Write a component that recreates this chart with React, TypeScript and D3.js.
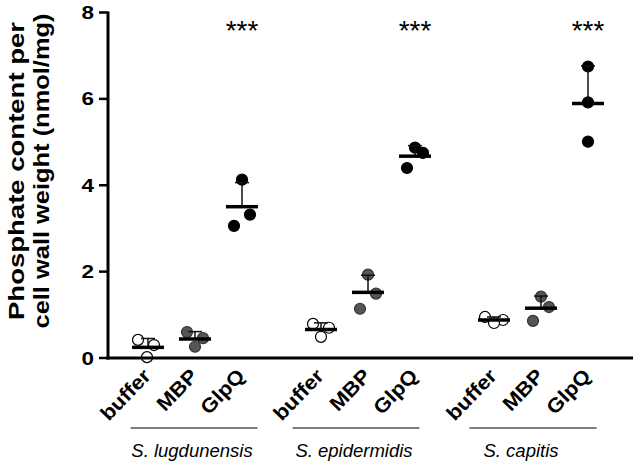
import React from 'react';
import * as d3 from 'd3';

// ---------- data ----------
const species = ['S. lugdunensis', 'S. epidermidis', 'S. capitis'];
const treatments = ['buffer', 'MBP', 'GlpQ'];
const bufferValues = [
  [0.42, 0.3, 0.02],
  [0.79, 0.7, 0.49],
  [0.95, 0.88, 0.81],
];
const mbpValues = [
  [0.6, 0.46, 0.26],
  [1.93, 1.49, 1.14],
  [1.42, 1.18, 0.86],
];
const glpqValues = [
  [4.13, 3.32, 3.06],
  [4.87, 4.75, 4.4],
  [6.75, 5.92, 5.01],
];
const yTicks = [0, 2, 4, 6, 8];
const significance = ['***', '***', '***'];
const yTitle = ['Phosphate content per', 'cell wall weight (nmol/mg)'];

// ---------- layout ----------
const W = 633;
const H = 463;
const FONT = "'Liberation Sans', Arial, Helvetica, sans-serif";
const jitter = [
  [[-10, 6, -1], [-8, 8, 0], [0, 8, -8]],
  [[-8, 8, 0], [0, 8, -8], [0, 8, -8]],
  [[-9, 9, 0], [0, 8, -8], [0, 0, 0]],
];
const lineShift = [-1, -12, -8];
const labelShift = [-3, -14, -20];
const pointStyles = [
  { fill: '#ffffff', stroke: '#000000' },
  { fill: '#555555', stroke: '#333333' },
  { fill: '#000000', stroke: '#000000' },
];

export default function App() {
  const y = d3.scaleLinear().domain([0, 8]).range([358, 12.5]);
  const gx = d3.scaleLinear().domain([0, 2]).range([148, 494]);
  const tx = d3.scalePoint<string>().domain(treatments).range([0, 94]);
  const colX = (g: number, t: string) => gx(g) + (tx(t) as number);
  const allValues = [bufferValues, mbpValues, glpqValues];
  const axisX = 108;
  const axisY = y(0);

  return (
    <svg
      width={W}
      height={H}
      style={{ position: 'absolute', left: 0, top: 0, background: '#fff' }}
      fontFamily={FONT}
    >
      <rect width={W} height={H} fill="#fff" />
      {/* y title */}
      <g transform={`translate(0, 171) rotate(-90)`}>
        <text x={0} y={24} textAnchor="middle" fontWeight="bold" fontSize={21.5}
          textLength={298} lengthAdjust="spacingAndGlyphs">{yTitle[0]}</text>
        <text x={0} y={49} textAnchor="middle" fontWeight="bold" fontSize={21.5}
          textLength={315} lengthAdjust="spacingAndGlyphs">{yTitle[1]}</text>
      </g>

      {/* points */}
      {species.map((s, g) =>
        treatments.map((t, ti) =>
          allValues[ti][g].map((v, k) => (
            <circle
              key={`${s}-${t}-${k}`}
              cx={colX(g, t) + jitter[g][ti][k]}
              cy={y(v)}
              r={5.5}
              fill={pointStyles[ti].fill}
              stroke={pointStyles[ti].stroke}
              strokeWidth={1.2}
            />
          ))
        )
      )}

      {/* mean and SD */}
      {species.map((s, g) =>
        treatments.map((t, ti) => {
          const vals = allValues[ti][g];
          const m = d3.mean(vals) as number;
          const sd = d3.deviation(vals) as number;
          const cx = colX(g, t);
          return (
            <g key={`m-${s}-${t}`}>
              <line x1={cx} x2={cx} y1={y(m)} y2={y(m + sd)} stroke="#111" strokeWidth={1.5} />
              <line x1={cx - 7} x2={cx + 7} y1={y(m + sd)} y2={y(m + sd)} stroke="#111" strokeWidth={1.5} />
              <line x1={cx - 16} x2={cx + 16} y1={y(m)} y2={y(m)} stroke="#000" strokeWidth={3.5} />
            </g>
          );
        })
      )}

      {/* significance */}
      {species.map((s, g) => (
        <text key={`sig-${s}`} x={colX(g, 'GlpQ')} y={40} textAnchor="middle" fontSize={28}>
          {significance[g]}
        </text>
      ))}

      {/* axes */}
      <line x1={axisX} x2={axisX} y1={y(8) - 1} y2={axisY + 1.5} stroke="#000" strokeWidth={3} />
      <line x1={axisX - 1.5} x2={W} y1={axisY} y2={axisY} stroke="#000" strokeWidth={3} />
      {yTicks.map((t) => (
        <g key={`yt-${t}`}>
          <line x1={axisX - 9} x2={axisX} y1={y(t)} y2={y(t)} stroke="#000" strokeWidth={2.5} />
          <text transform={`translate(${axisX - 14}, ${y(t) + 6.5}) scale(1.25, 1)`}
            textAnchor="end" fontWeight="bold" fontSize={18}>
            {t}
          </text>
        </g>
      ))}

      {/* x category labels */}
      {species.map((s, g) =>
        treatments.map((t) => {
          const cx = colX(g, t) + 4;
          return (
            <text key={`xl-${s}-${t}`} transform={`translate(${cx}, 377) rotate(-46) scale(1.1, 1)`}
              textAnchor="end" fontWeight="bold" fontSize={20}>
              {t}
            </text>
          );
        })
      )}

      {/* group lines and species labels */}
      {species.map((s, g) => {
        const c = colX(g, 'MBP');
        return (
          <g key={`grp-${s}`}>
            <line x1={c + lineShift[g] - 63.5} x2={c + lineShift[g] + 63.5} y1={428} y2={428}
              stroke="#000" strokeWidth={1.2} />
            <text x={c + labelShift[g]} y={457} textAnchor="middle" fontStyle="italic" fontSize={18.5}>
              {s}
            </text>
          </g>
        );
      })}
    </svg>
  );
}
